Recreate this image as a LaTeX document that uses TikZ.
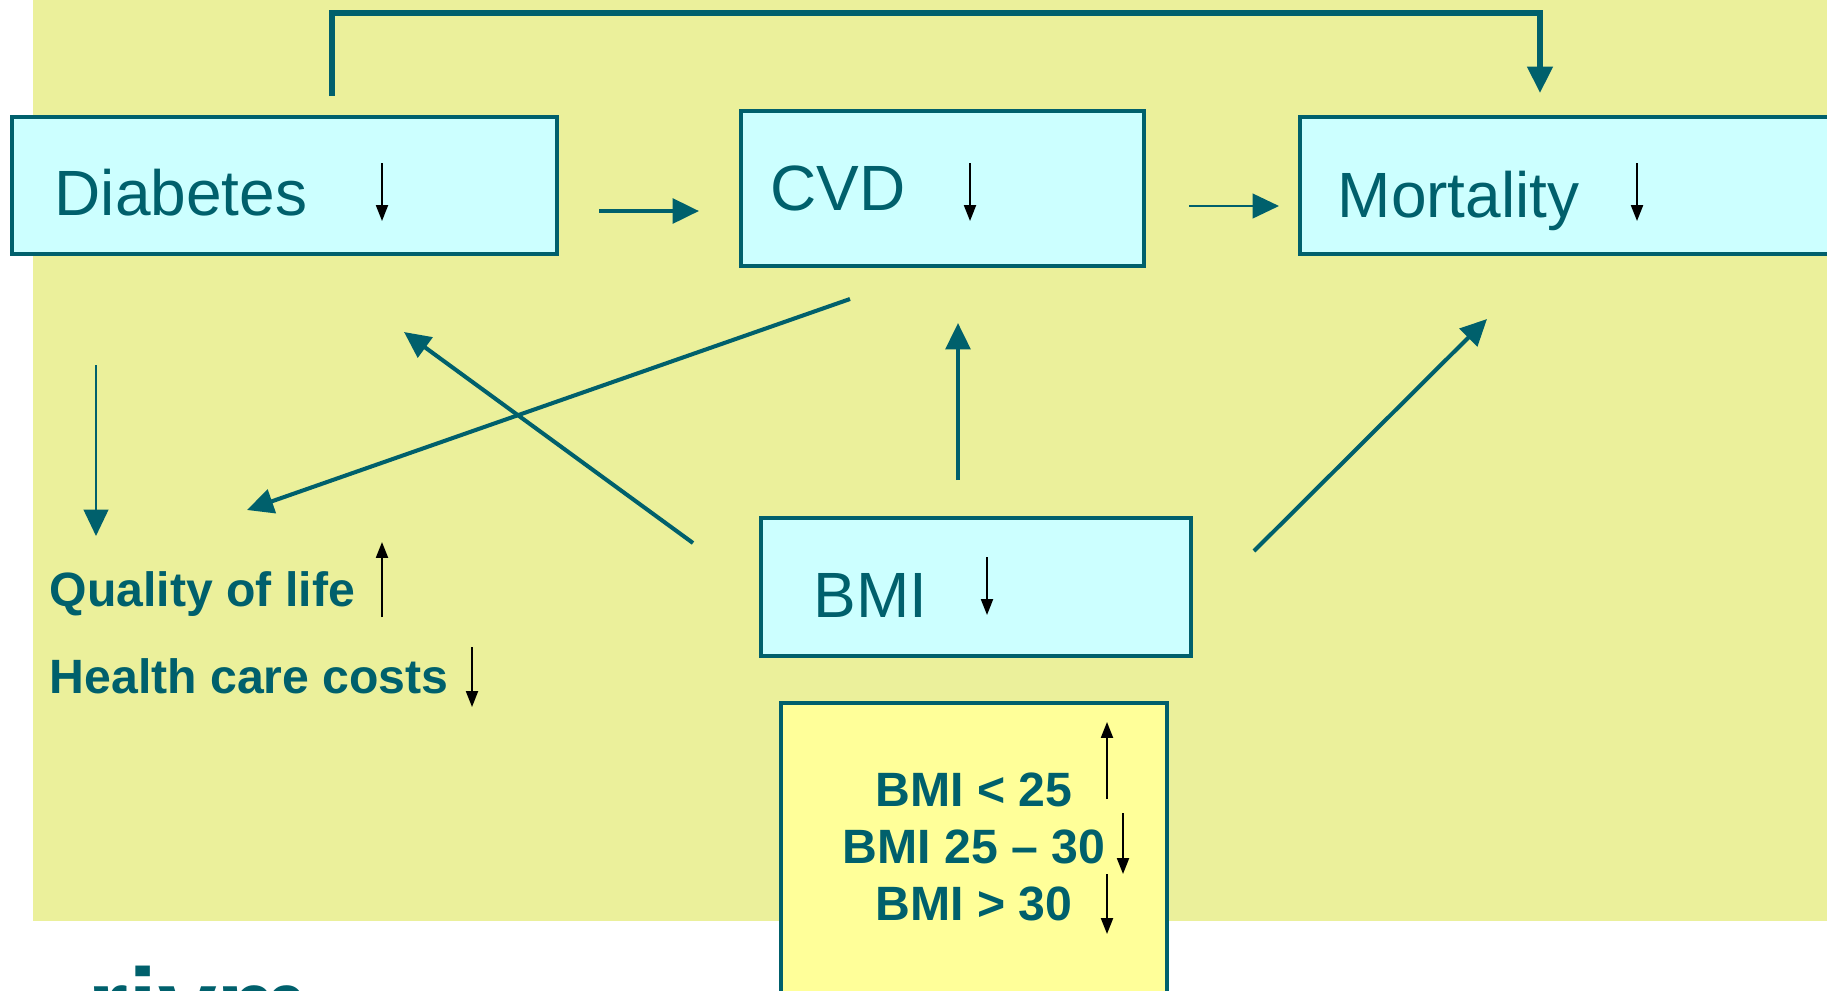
\documentclass[tikz,border=0pt]{standalone}
\usepackage{fontspec}
\setmainfont{Liberation Sans}
\usetikzlibrary{arrows.meta, positioning}
\definecolor{bgyellow}{RGB}{235,240,155}
\definecolor{boxcyan}{RGB}{204,255,255}
\definecolor{rivmteal}{RGB}{0,96,108}
\definecolor{paleyellow}{RGB}{255,255,153}

\begin{document}
\begin{tikzpicture}[x=0.01cm, y=-0.01cm, >={Triangle[length=7.5pt, width=7pt]}]
    \tikzset{
        box/.style={draw=rivmteal, line width=1.2pt, fill=boxcyan, inner sep=0},
        lbl/.style={text=rivmteal, inner sep=0, anchor=base west, font=\fontsize{18.2pt}{22pt}\selectfont},
        blbl/.style={text=rivmteal, inner sep=0, font=\bfseries\fontsize{13.7pt}{16pt}\selectfont},
        link/.style={draw=rivmteal, line width=1.15pt, ->},
        thinlink/.style={draw=rivmteal, line width=0.65pt, ->},
        ind/.style={draw=black, line width=0.55pt, -{Triangle[length=4.5pt, width=3.4pt]}}
    }
    \clip (0,0) rectangle (1827,990);
    \fill[bgyellow] (33,0) rectangle (1827,921);

    % boxes
    \node[box, minimum width=5.45cm, minimum height=1.37cm] (dia) at (284.5,185.5) {};
    \node[box, minimum width=4.03cm, minimum height=1.55cm] (cvd) at (942.5,188.5) {};
    \node[box, minimum width=5.50cm, minimum height=1.37cm] (mort) at (1575,185.5) {};
    \node[box, minimum width=4.30cm, minimum height=1.38cm] (bmi) at (976,587) {};
    \node[box, fill=paleyellow, minimum width=3.86cm, minimum height=3.10cm] (groups) at (974,858) {};

    % box texts
    \node[lbl] (diatxt) at (54,215) {Diabetes};
    \node[lbl] (cvdtxt) at (770,210) {CVD};
    \node[lbl] (morttxt) at (1337,217) {Mortality};
    \node[lbl] (bmitxt) at (813,617) {BMI};
    \node[blbl, anchor=base west] (qol) at (49,606) {Quality of life};
    \node[blbl, anchor=base west] (costs) at (49,693) {Health care costs};
    \node[blbl, anchor=base] (lowbmi) at (974,806) {BMI < 25};
    \node[blbl, anchor=base] (midbmi) at (974,863) {BMI 25 -- 30};
    \node[blbl, anchor=base] (highbmi) at (974,920) {BMI > 30};
    \node[text=rivmteal, inner sep=0, anchor=base west, font=\bfseries\fontsize{30pt}{30pt}\selectfont] (logo) at (87,1042) {rivm};

    % up and down marks
    \draw[ind] (382,163) -- (382,221);
    \draw[ind] (970,163) -- (970,221);
    \draw[ind] (1637,163) -- (1637,221);
    \draw[ind] (987,557) -- (987,615);
    \draw[ind] (382,617) -- (382,542);
    \draw[ind] (472,647) -- (472,707);
    \draw[ind] (1107,799) -- (1107,722);
    \draw[ind] (1123,813) -- (1123,874);
    \draw[ind] (1107,874) -- (1107,934);

    % connector ends
    \coordinate (diaup) at (332,96);
    \coordinate (morttop) at (1540,93);
    \coordinate (diaright) at (599,211);
    \coordinate (cvdleft) at (699,211);
    \coordinate (cvdright) at (1189,206);
    \coordinate (mortleft) at (1279,206);
    \coordinate (cvdlow) at (850,299);
    \coordinate (qoltop) at (247,510);
    \coordinate (bmiwest) at (693,543);
    \coordinate (dialow) at (404,332);
    \coordinate (bmitop) at (958,480);
    \coordinate (cvdbottom) at (958,323);
    \coordinate (bmieast) at (1254,551);
    \coordinate (mortlow) at (1487,319);
    \coordinate (diadown) at (96,365);
    \coordinate (qolup) at (96,536);

    \draw[link, line width=1.6pt, line join=miter] (diaup) -- ++(0,-83) -| (morttop);
    \draw[link] (diaright) -- (cvdleft);
    \draw[thinlink] (cvdright) -- (mortleft);
    \draw[link] (cvdlow) -- (qoltop);
    \draw[link] (bmiwest) -- (dialow);
    \draw[link] (bmitop) -- (cvdbottom);
    \draw[link] (bmieast) -- (mortlow);
    \draw[thinlink] (diadown) -- (qolup);
\end{tikzpicture}
\end{document}
